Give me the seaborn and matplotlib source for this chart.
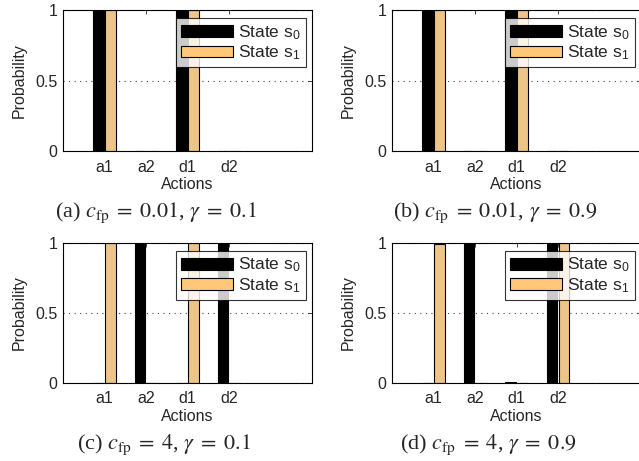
import numpy as np
import pandas as pd
import seaborn as sns
import matplotlib.pyplot as plt
from matplotlib.patches import Patch

actions = ['a1', 'a2', 'd1', 'd2']
states = [r'State s$_{\mathregular{0}}$', r'State s$_{\mathregular{1}}$']

# action probabilities per state, one pair per setting (a)-(d)
s0_a = [1.0, 0.0, 1.0, 0.0]
s1_a = [1.0, 0.0, 1.0, 0.0]
s0_b = [1.0, 0.0, 1.0, 0.0]
s1_b = [1.0, 0.0, 1.0, 0.0]
s0_c = [0.0, 1.0, 0.0, 1.0]
s1_c = [1.0, 0.0, 1.0, 0.0]
s0_d = [0.0, 1.0, 0.006, 0.994]
s1_d = [0.996, 0.004, 0.0, 1.0]

captions = [r'(a) $c_{\rm fp} \;=\; 0.01$, $\gamma \;=\; 0.1$',
            r'(b) $c_{\rm fp} \;=\; 0.01$, $\gamma \;=\; 0.9$',
            r'(c) $c_{\rm fp} \;=\; 4$, $\gamma \;=\; 0.1$',
            r'(d) $c_{\rm fp} \;=\; 4$, $\gamma \;=\; 0.9$']

colors = {states[0]: 'black', states[1]: '#FFC878'}

sns.set_style('white')
plt.rcParams['font.family'] = ['Liberation Sans', 'DejaVu Sans']
plt.rcParams['mathtext.fontset'] = 'stix'

fig = plt.figure(figsize=(6.39, 4.61), dpi=100)

panels = [(s0_a, s1_a), (s0_b, s1_b), (s0_c, s1_c), (s0_d, s1_d)]
# axes rectangles in figure fraction
rects = [[0.0986, 0.672, 0.390, 0.306],
         [0.6135, 0.672, 0.390, 0.306],
         [0.0986, 0.169, 0.390, 0.304],
         [0.6135, 0.169, 0.390, 0.304]]
cap_pos = [(0.244, 0.538), (0.775, 0.538), (0.257, 0.035), (0.764, 0.035)]

for i, (s0, s1) in enumerate(panels):
    ax = fig.add_axes(rects[i])
    df = pd.DataFrame({
        'action': actions * 2,
        'state': [states[0]] * 4 + [states[1]] * 4,
        'prob': s0 + s1,
    })
    sns.barplot(data=df, x='action', y='prob', hue='state', order=actions,
                hue_order=states, palette=colors, width=0.58, gap=0.14,
                edgecolor='black', linewidth=0.8, ax=ax, legend=False)
    ax.set_xlim(-1, 5)
    ax.set_ylim(0, 1)
    ax.set_yticks([0, 0.5, 1])
    ax.set_yticklabels(['0', '0.5', '1'])
    ax.yaxis.grid(True, linestyle=(0, (1, 4)), color='#444444', linewidth=0.8)
    ax.set_axisbelow(True)
    for sp in ax.spines.values():
        sp.set_visible(True)
        sp.set_color('black')
        sp.set_linewidth(0.8)
    ax.tick_params(direction='in', length=3, width=0.6, top=True, right=True,
                   labelsize=11.5, pad=4)
    ax.tick_params(axis='x', pad=6)
    ax.set_xlabel('Actions', fontsize=11.5, labelpad=2)
    ax.set_ylabel('Probability', fontsize=11.5, labelpad=6)

    handles = [Patch(facecolor=colors[s], edgecolor='black', linewidth=0.8) for s in states]
    leg = ax.legend(handles, states, loc='upper right', bbox_to_anchor=(0.975, 0.945),
                    borderaxespad=0, fontsize=12.5, handlelength=3.0, handleheight=0.65,
                    handletextpad=0.3, labelspacing=0.12, borderpad=0.3,
                    fancybox=False, frameon=True)
    leg.get_frame().set_edgecolor('black')
    leg.get_frame().set_linewidth(0.8)

    fig.text(cap_pos[i][0], cap_pos[i][1], captions[i], ha='center', va='center',
             fontsize=16, family=['Liberation Serif', 'DejaVu Serif'])

fig.savefig('out.png', dpi=100)
